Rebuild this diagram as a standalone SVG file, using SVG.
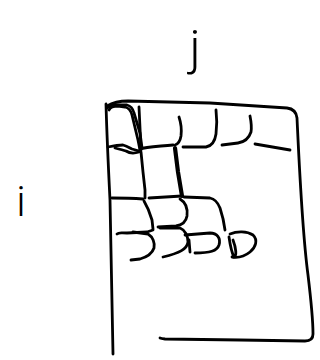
<svg xmlns="http://www.w3.org/2000/svg" width="320" height="360" viewBox="0 0 320 360">
<style>
.s{fill:none;stroke:#000;stroke-width:2.8;stroke-linecap:round;stroke-linejoin:round}
.t{stroke-width:4.2}
.lbl{font-family:Roboto,"Liberation Sans",sans-serif;font-weight:300;fill:#000}
</style>
<rect width="320" height="360" fill="#fff"/>
<g id="label-j"><text class="lbl" x="195" y="64" font-size="49" text-anchor="middle">j</text></g>
<g id="label-i"><text class="lbl" x="21" y="216" font-size="42" text-anchor="middle">i</text></g>
<g id="frame">
<path class="s" d="M106,104 C107,140 109,180 110,200 C111,250 112,300 113,354"/>
<path class="s" d="M107,106 C112,103 118,101 128,101 L210,103 L287,108 Q296,109 297,118 C299,160 302,230 308,275 C311,300 313,320 313,334 Q313,341 305,341 L240,340 L165,339 Q161,338.5 160,338"/>
</g>
<g id="cells">
<path class="s" d="M107,108 C108,106 110,105 115,105 L127,105 C131,106 133,109 134,113 L140,133 L142,148"/>
<path class="s" d="M109,110 C110,107 113,106 118,106 L125,107 C129,108 131,111 132,115 L138,140 L140,150"/>
<path class="s" d="M139,107 L140,128 L141,150"/>
<path class="s" d="M108,147 C113,146 118,145 123,145 C127,146 130,148 132,149 L139,151"/>
<path class="s" d="M115,148 C119,149 123,150 126,151 C129,153 133,154 139,152"/>
<path class="s" d="M140,149 C145,147 150,147 173,145"/>
<path class="s t" d="M175,148 L178,172 L182,196"/>
<path class="s" d="M179,117 C181,123 182,128 181,136 C180,142 178,144 175,145"/>
<path class="s" d="M183,147 L206,147 C212,146 215,141 216,134 C217,126 217,118 216,110"/>
<path class="s" d="M222,145 L238,143 C245,142 249,138 251,132 C252,126 251,121 250,116"/>
<path class="s" d="M255,144 L290,150"/>
<path class="s" d="M141,152 L143,172 L145,190 L145,198"/>
<path class="s" d="M112,198 C120,198 130,198 143,199"/>
<path class="s" d="M149,198 L182,196"/>
<path class="s" d="M144,201 C147,206 150,213 152,220 L153,229"/>
<path class="s" d="M180,199 C185,202 188,208 187,216 C186,222 182,225 176,226 L158,227"/>
<path class="s" d="M184,197 L210,198 C215,199 218,203 220,208 C222,214 224,222 225,230"/>
<path class="s" d="M117,234 C119,232 121,233 127,233 L147,232 L153,230"/>
<path class="s" d="M133,232 L148,234 C153,237 155,243 154,248 C152,254 147,257 140,259 L131,260"/>
<path class="s" d="M160,228 L180,228 C185,230 188,236 188,242 C187,249 180,253 163,257"/>
<path class="s" d="M185,235 L210,233 C217,233 221,238 219,245 C217,251 210,253 195,253"/>
<path class="s" d="M189,240 L190,252"/>
<path class="s" d="M230,234 C237,231 247,231 253,235 C258,240 256,247 250,252 C245,256 238,258 232,257"/>
<path class="s" d="M229,237 C230,244 231,251 234,257 C237,256 236,248 233,240"/>
</g>
</svg>
